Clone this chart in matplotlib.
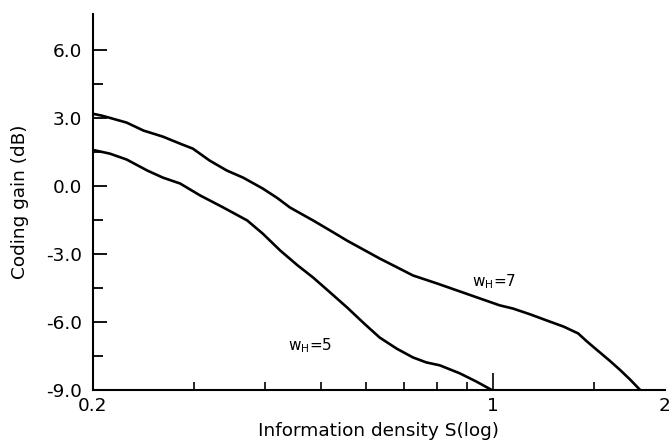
import matplotlib
matplotlib.use("Agg")
import matplotlib.pyplot as plt
from matplotlib.ticker import FixedLocator, NullFormatter

# Data
s_wh7 = [0.200, 0.207, 0.214, 0.229, 0.245, 0.265, 0.284, 0.299, 0.320, 0.343, 0.366,
         0.396, 0.420, 0.442, 0.485, 0.520, 0.556, 0.634, 0.680, 0.725, 0.798, 0.886,
         0.948, 1.028, 1.084, 1.160, 1.243, 1.33, 1.41, 1.46, 1.524, 1.60, 1.672, 1.74,
         1.81]
gain_wh7 = [3.2, 3.12, 3.02, 2.81, 2.46, 2.19, 1.88, 1.66, 1.13, 0.69, 0.38,
            -0.10, -0.52, -0.94, -1.51, -1.96, -2.40, -3.19, -3.58, -3.94, -4.29, -4.69,
            -4.95, -5.26, -5.40, -5.65, -5.93, -6.20, -6.50, -6.85, -7.25, -7.70, -8.13,
            -8.55, -9.0]

s_wh5 = [0.200, 0.207, 0.214, 0.229, 0.249, 0.265, 0.284, 0.308, 0.338, 0.372, 0.396,
         0.425, 0.455, 0.485, 0.520, 0.556, 0.595, 0.634, 0.680, 0.725, 0.765, 0.808,
         0.875, 0.935, 0.996]
gain_wh5 = [1.6, 1.52, 1.44, 1.18, 0.69, 0.38, 0.12, -0.41, -0.94, -1.51, -2.09,
            -2.84, -3.48, -4.03, -4.70, -5.35, -6.05, -6.68, -7.18, -7.56, -7.78, -7.91,
            -8.26, -8.62, -9.0]

y_major = [-9.0, -6.0, -3.0, 0.0, 3.0, 6.0]
y_minor = [-7.5, -4.5, -1.5, 1.5, 4.5]
x_major = [0.2, 1, 2]
x_major_labels = ["0.2", "1", "2"]
x_minor = [0.3, 0.4, 0.5, 0.6, 0.7, 0.8, 0.9, 1.5]

fig = plt.figure(figsize=(6.70, 4.42), dpi=100)
ax = fig.add_axes([0.1388, 0.1176, 0.9925 - 0.1388, 0.968 - 0.1176])

ax.plot(s_wh7, gain_wh7, color="black", lw=1.9, solid_capstyle="round",
        solid_joinstyle="round")
ax.plot(s_wh5, gain_wh5, color="black", lw=1.9, solid_capstyle="round",
        solid_joinstyle="round")

ax.set_xscale("log")
ax.set_xlim(0.2, 2.0)
ax.set_ylim(-9.0, 7.6)

ax.spines["top"].set_visible(False)
ax.spines["right"].set_visible(False)
ax.spines["left"].set_linewidth(1.5)
ax.spines["bottom"].set_linewidth(1.5)

ax.yaxis.set_major_locator(FixedLocator(y_major))
ax.yaxis.set_minor_locator(FixedLocator(y_minor))
ax.set_yticklabels([f"{v:.1f}" for v in y_major])

ax.xaxis.set_major_locator(FixedLocator(x_major))
ax.xaxis.set_minor_locator(FixedLocator(x_minor))
ax.set_xticklabels(x_major_labels)
ax.xaxis.set_minor_formatter(NullFormatter())

ax.tick_params(axis="y", which="major", direction="in", length=10, width=1.3,
               labelsize=13.3, pad=8)
ax.tick_params(axis="y", which="minor", direction="in", length=7, width=1.3)
ax.tick_params(axis="x", which="major", direction="in", length=12, width=1.2,
               labelsize=13.3, pad=5)
ax.tick_params(axis="x", which="minor", direction="in", length=6, width=1.2)

# no visible tick marks at the ends of the x axis
xt = ax.xaxis.get_major_ticks()
xt[0].tick1line.set_visible(False)
xt[2].tick1line.set_visible(False)

ax.set_xlabel("Information density S(log)", fontsize=13.3, labelpad=5)
ax.set_ylabel("Coding gain (dB)", fontsize=13.3, labelpad=12)

ax.text(0.92, -4.2, r"w$_\mathregular{H}$=7", fontsize=11, ha="left", va="center")
ax.text(0.439, -7.03, r"w$_\mathregular{H}$=5", fontsize=11, ha="left", va="center")

fig.savefig("out.png", dpi=100)
